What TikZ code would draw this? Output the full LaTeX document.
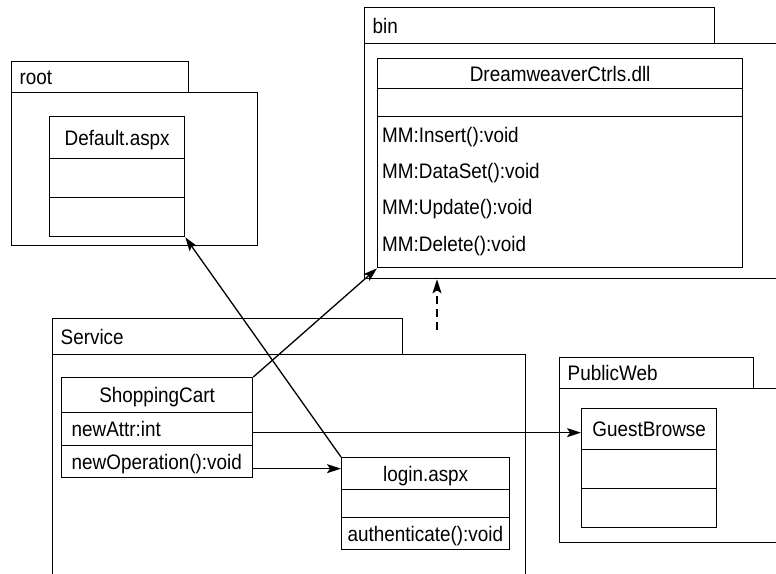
\documentclass[tikz,border=0pt]{standalone}
\usepackage{fontspec}
\setmainfont[FakeStretch=0.9]{Liberation Sans}
\usetikzlibrary{arrows.meta}
\begin{document}
\begin{tikzpicture}[x=1pt,y=-1pt,
  every node/.style={font=\fontsize{21}{25}\selectfont},
  box/.style={draw, line width=1.3pt, anchor=north west, inner sep=0pt,
    text height=15pt, text depth=0pt},
  lbox/.style={box, align=left, inner xsep=#1},
  txt/.style={anchor=base west, inner sep=0pt},
  arr/.style={line width=1.3pt, -{Stealth[length=14pt,width=9pt,inset=3pt]}},
  dep/.style={arr, dash pattern=on 8pt off 5pt}]
\useasboundingbox (0,0) rectangle (776,573);
\clip (0,0) rectangle (776,573);

% packages: tab + body
\node[lbox=8pt, text width=161pt, minimum height=31pt] (roottab) at (11,61) {root};
\node[box, minimum width=246pt, minimum height=153pt] (rootbody) at (11,92) {};
\node[lbox=8pt, text width=334pt, minimum height=36pt] (bintab) at (364,7) {bin};
\node[box, minimum width=426pt, minimum height=235pt] (binbody) at (364,43) {};
\node[lbox=8pt, text width=334pt, minimum height=36pt] (svctab) at (52,318) {Service};
\node[box, minimum width=473pt, minimum height=236pt] (svcbody) at (52,354) {};
\node[lbox=8pt, text width=178pt, minimum height=31pt] (pubtab) at (559,357) {PublicWeb};
\node[box, minimum width=231pt, minimum height=154pt] (pubbody) at (559,388) {};

% Default.aspx
\node[box, minimum width=135pt, minimum height=42pt] (def) at (49,116) {Default.aspx};
\node[box, minimum width=135pt, minimum height=39pt] (def-a) at (49,158) {};
\node[box, minimum width=135pt, minimum height=39pt] (def-o) at (49,197) {};

% DreamweaverCtrls.dll
\node[box, minimum width=365pt, minimum height=30pt] (dw) at (377,58) {DreamweaverCtrls.dll};
\node[box, minimum width=365pt, minimum height=28pt] (dw-a) at (377,88) {};
\node[box, minimum width=365pt, minimum height=151pt] (dw-o) at (377,116) {};
\node[txt] (m1) at (382,142) {MM:Insert():void};
\node[txt] (m2) at (382,178) {MM:DataSet():void};
\node[txt] (m3) at (382,214.5) {MM:Update():void};
\node[txt] (m4) at (382,251) {MM:Delete():void};

% ShoppingCart
\node[box, minimum width=191pt, minimum height=35pt] (sc) at (61,377) {ShoppingCart};
\node[lbox=10pt, text width=171pt, minimum height=33pt] (sc-a) at (61,412) {newAttr:int};
\node[lbox=10pt, text width=171pt, minimum height=32pt] (sc-o) at (61,445) {newOperation():void};

% login.aspx
\node[box, minimum width=168pt, minimum height=32pt] (lg) at (341,457) {login.aspx};
\node[box, minimum width=168pt, minimum height=28pt] (lg-a) at (341,489) {};
\node[lbox=6pt, text width=156pt, minimum height=32pt] (lg-o) at (341,517) {authenticate():void};

% GuestBrowse
\node[box, minimum width=135pt, minimum height=41pt] (gb) at (581,408) {GuestBrowse};
\node[box, minimum width=135pt, minimum height=39pt] (gb-a) at (581,449) {};
\node[box, minimum width=135pt, minimum height=39pt] (gb-o) at (581,488) {};

% connectors
\draw[arr] (sc.north east) -- (dw-o.south west);
\draw[arr] (lg.north west) -- (def-o.south east);
\draw[arr] ([yshift=-7pt]sc-o.east) -- ([yshift=-7pt]sc-o.east -| lg.west);
\draw[arr] ([yshift=-3.5pt]sc-a.east) -- ([yshift=-3.5pt]sc-a.east -| gb.west);
\coordinate (depfoot) at (437,330);
\draw[dep] (depfoot) -- (depfoot |- binbody.south);
\end{tikzpicture}
\end{document}
